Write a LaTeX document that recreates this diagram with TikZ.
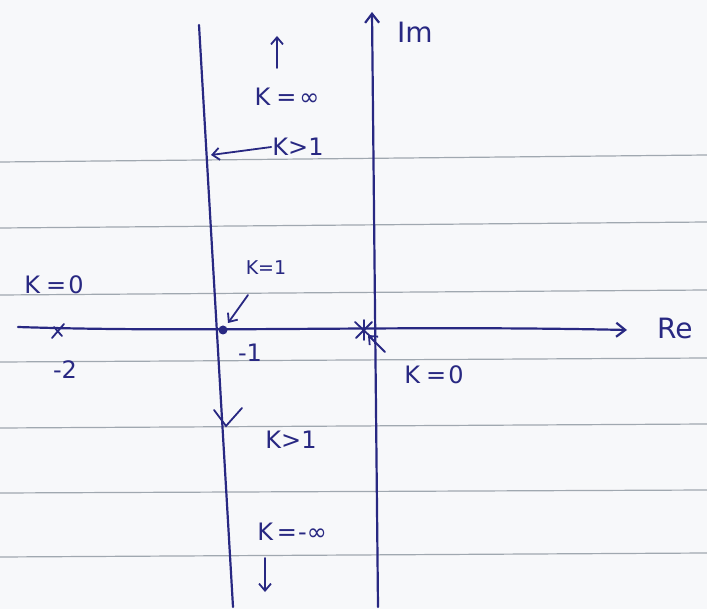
\documentclass[tikz,border=0pt]{standalone}
\usepackage{fontspec}
\setmainfont{DejaVu Sans}
\usetikzlibrary{arrows.meta}
\definecolor{ink}{RGB}{40,40,130}
\definecolor{rule}{RGB}{160,168,176}
\definecolor{paper}{RGB}{247,248,250}
\tikzset{
  inkline/.style={draw=ink, line width=2.2pt, line cap=round},
  ruleline/.style={draw=rule, line width=1.2pt},
  lbl/.style={text=ink, font=\fontsize{24}{26}\selectfont, inner sep=1pt},
  openhead/.style={-{Straight Barb[length=9pt,width=14pt]}},
  ptr/.style={draw=ink, line width=1.8pt, line cap=round, -{Straight Barb[length=7pt,width=12pt]}},
}
\begin{document}
\begin{tikzpicture}[x=1pt,y=-1pt]
\useasboundingbox (0,0) rectangle (707,609);
\fill[paper] (0,0) rectangle (707,609);
% ruled paper lines
\foreach \yy/\yr in {162/155,228/222,295/290,362/358,428/424,493/490,557/553}
  \draw[ruleline] (0,\yy) -- (707,\yr);
% coordinates
\coordinate (reS) at (18,327);
\coordinate (reE) at (627,330);
\coordinate (imS) at (378,607);
\coordinate (imE) at (372,12);
\coordinate (lT) at (199,25);
\coordinate (lB) at (233,607);
\coordinate (pm1) at (223,330);
% axes
\draw[inkline, openhead] (reS) .. controls (200,333) and (400,325) .. (reE);
\draw[inkline, openhead] (imS) -- (imE);
% vertical locus at sigma=-1
\draw[inkline] (lT) -- (lB);
% poles
\draw[inkline, line width=1.8pt] (52,338) -- (64,324) (54,327) -- (62,336);
\draw[inkline, line width=1.8pt] (355,322) -- (372,338) (356,338) -- (372,322) (364,320) -- (364,340);
\fill[ink] (pm1) circle (4.5pt);
% labels
\node[lbl] (lK0a) at (54,285) {K\hspace{6pt}=\hspace{2pt}0};
\node[lbl] (lm2) at (65,370) {-2};
\node[lbl, font=\fontsize{19}{21}\selectfont] (lK1) at (266,268) {K=1};
\node[lbl] (lm1) at (250,353) {-1};
\node[lbl] (lK0b) at (434,375) {K\hspace{6pt}=\hspace{2pt}0};
\node[lbl] (lKinf) at (287,97) {K\hspace{6pt}=\hspace{3pt}∞};
\node[lbl] (lKg1a) at (298,147) {K>1};
\node[lbl] (lKg1b) at (291,440) {K>1};
\node[lbl] (lKminf) at (292,532) {K\hspace{4pt}=\hspace{1pt}-∞};
\node[lbl, font=\fontsize{28}{30}\selectfont] (lIm) at (415,32) {Im};
\node[lbl, font=\fontsize{28}{30}\selectfont, anchor=west] (lRe) at (656,328) {Re};
% pointer arrows
\draw[ptr] (lKg1a.west) -- (211,155);
\draw[ptr] (248,295) -- (228,323);
\draw[ptr] (385,352) -- (368,335);
\draw[ptr] (277,68) -- (277,36);
\draw[ptr] (265,558) -- (265,592);
% direction arrow on locus (downward)
\draw[inkline, line width=1.8pt] (214,410) -- (226,426) -- (242,408);
\end{tikzpicture}
\end{document}
